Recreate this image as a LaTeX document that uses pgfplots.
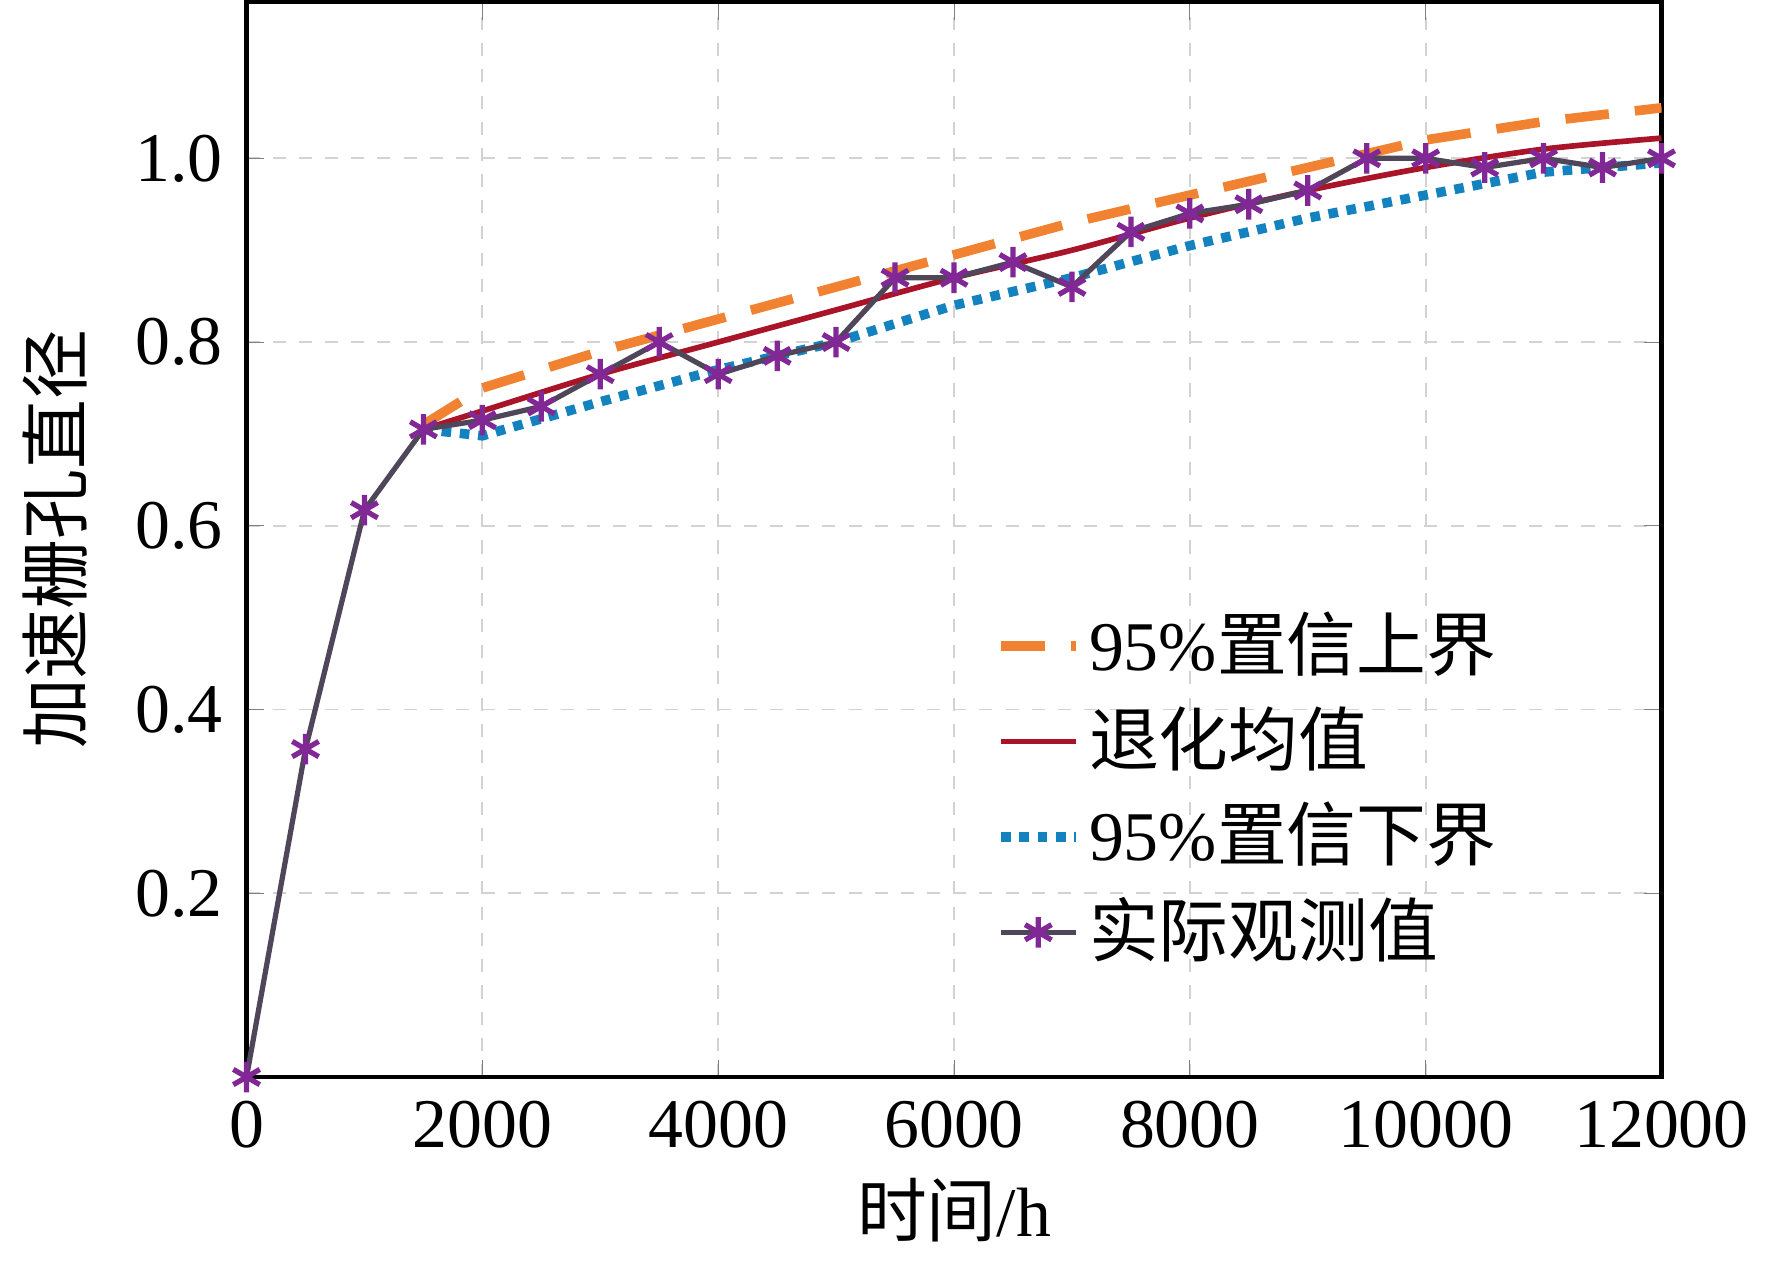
\documentclass[border=0pt]{standalone}
\usepackage{pgfplots}
\pgfplotsset{compat=1.18}
\usepackage{fontspec}
\setmainfont{Liberation Serif}
\newfontfamily\cjk{Noto Sans CJK SC}
\begin{document}
\fontsize{16}{19}\selectfont
\begin{tikzpicture}
\begin{axis}[
  width=11.4cm,height=8.66cm,scale only axis,
  xmin=0,xmax=12000,ymin=0,ymax=1.17,
  xtick={0,2000,...,12000},ytick={0.2,0.4,...,1.0},
  scaled x ticks=false,
  x tick label style={/pgf/number format/.cd,1000 sep={},fixed},
  y tick label style={/pgf/number format/.cd,fixed,fixed zerofill,precision=1},
  /pgf/number format/assume math mode=true,
  tick label style={font=\fontsize{16}{19}\selectfont},
  grid=major, grid style={dashed,gray!35},
  tick align=inside, tick pos=both, major tick length=4pt,
  axis line style={line width=1pt},
  xlabel={{\cjk 时间}/h}, ylabel={\cjk 加速栅孔直径},
  xlabel style={yshift=4pt},
  label style={font=\fontsize{16}{19}\selectfont},
  legend style={draw=none,fill=none,at={(0.52,0.45)},anchor=north west,font=\fontsize{16}{20}\selectfont,row sep=2pt},
  legend cell align=left,
]
\addplot[dashed,dash pattern=on 10pt off 6pt,color={rgb,255:red,240;green,130;blue,50},line width=2.2pt] coordinates {
(1500,0.71)(2000,0.75)(3000,0.79)(4000,0.825)(5000,0.86)(6000,0.895)(7000,0.93)(8000,0.96)(9000,0.99)(10000,1.02)(11000,1.04)(12000,1.055)};
\addlegendentry{95\%{\cjk 置信上界}}
\addplot[color={rgb,255:red,170;green,20;blue,40},line width=1.3pt,smooth] coordinates {
(1500,0.705)(2000,0.725)(3000,0.765)(4000,0.80)(5000,0.835)(6000,0.87)(7000,0.90)(8000,0.935)(9000,0.965)(10000,0.99)(11000,1.01)(12000,1.022)};
\addlegendentry{\cjk 退化均值}
\addplot[dotted,color={rgb,255:red,20;green,130;blue,190},line width=2.2pt] coordinates {
(1500,0.705)(2000,0.698)(3000,0.735)(4000,0.77)(5000,0.80)(6000,0.84)(7000,0.87)(8000,0.905)(9000,0.935)(10000,0.96)(11000,0.985)(12000,0.995)};
\addlegendentry{95\%{\cjk 置信下界}}
\addplot[color={rgb,255:red,80;green,70;blue,90},line width=1.2pt,mark=asterisk,mark size=3.5pt,mark options={color={rgb,255:red,130;green,40;blue,150},line width=1.2pt}] coordinates {
(0,0)(500,0.357)(1000,0.617)(1500,0.705)(2000,0.715)(2500,0.73)(3000,0.765)(3500,0.8)(4000,0.765)(4500,0.785)(5000,0.8)(5500,0.87)(6000,0.87)(6500,0.887)(7000,0.86)(7500,0.92)(8000,0.94)(8500,0.95)(9000,0.965)(9500,1.0)(10000,1.0)(10500,0.99)(11000,1.0)(11500,0.99)(12000,1.0)};
\addlegendentry{\cjk 实际观测值}
\end{axis}
\end{tikzpicture}
\end{document}
